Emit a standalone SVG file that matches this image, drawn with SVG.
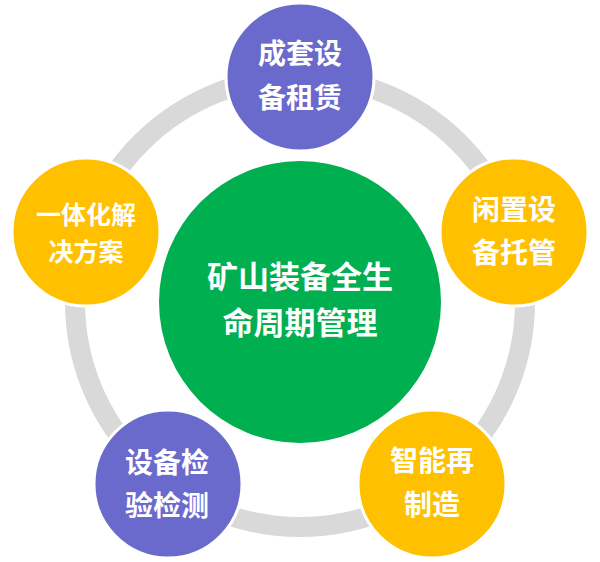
<svg xmlns="http://www.w3.org/2000/svg" width="600" height="562" viewBox="0 0 600 562">
<style>
.ring{fill:none;stroke:#D9D9D9;stroke-width:20}
.node{stroke:#FFFFFF;stroke-width:3}
.purple{fill:#6A6ACC}
.yellow{fill:#FFC000}
.green{fill:#00AF50}
text{font-family:"Noto Sans CJK SC","Microsoft YaHei",sans-serif;font-weight:700;fill:#FFFFFF;text-anchor:middle}
.t28{font-size:28px}
.t25{font-size:25px}
.t31{font-size:31px}
</style>
<rect width="600" height="562" fill="#FFFFFF"/>
<g id="connectors">
<circle class="ring" cx="300" cy="302" r="225"/>
</g>
<g id="center">
<circle class="green" cx="300" cy="302" r="141"/>
<text class="t31" x="300" y="288">矿山装备全生</text>
<text class="t31" x="300" y="334">命周期管理</text>
</g>
<g id="n-top">
<circle class="node purple" cx="300" cy="77" r="74"/>
<text class="t28" x="300" y="64">成套设</text>
<text class="t28" x="300" y="108">备租赁</text>
</g>
<g id="n-right">
<circle class="node yellow" cx="514" cy="232" r="74"/>
<text class="t28" x="514" y="220">闲置设</text>
<text class="t28" x="514" y="263">备托管</text>
</g>
<g id="n-bottom-right">
<circle class="node yellow" cx="432" cy="484" r="74"/>
<text class="t28" x="432" y="471">智能再</text>
<text class="t28" x="432" y="515">制造</text>
</g>
<g id="n-bottom-left">
<circle class="node purple" cx="168" cy="484" r="74"/>
<text class="t28" x="167" y="473">设备检</text>
<text class="t28" x="167" y="516">验检测</text>
</g>
<g id="n-left">
<circle class="node yellow" cx="86" cy="232" r="74"/>
<text class="t25" x="86" y="224">一体化解</text>
<text class="t25" x="86" y="261">决方案</text>
</g>
</svg>
